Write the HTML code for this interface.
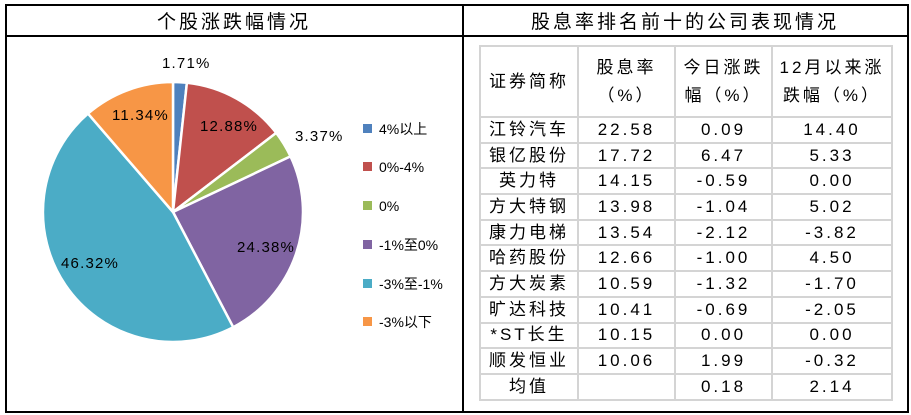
<!DOCTYPE html>
<html><head><meta charset="utf-8"><style>
body{margin:0;width:911px;height:415px;background:#fff;position:relative;overflow:hidden;font-family:"Liberation Sans","Noto Sans CJK SC",sans-serif;color:#000}
.a{position:absolute}
table{position:absolute;left:479px;top:45px;border-collapse:collapse;font-size:17px}
td{border:2px solid #d4d4d4;text-align:center;padding:0;height:23.7px;line-height:20px;letter-spacing:3px}
tr.h td{height:69px;line-height:28px;vertical-align:middle}
</style></head><body>
<div class="a" style="left:5px;top:4px;width:900px;height:405px;border:2px solid #000"></div>
<div class="a" style="left:5px;top:35px;width:902px;height:2px;background:#000"></div>
<div class="a" style="left:462px;top:4px;width:2px;height:407px;background:#000"></div>
<div class="a" style="left:5px;top:7px;width:458px;text-align:center;font-size:19px;letter-spacing:3px">个股涨跌幅情况</div>
<div class="a" style="left:463px;top:7px;width:444px;text-align:center;font-size:19px;letter-spacing:3px">股息率排名前十的公司表现情况</div>
<svg class="a" style="left:0;top:0" width="470" height="415">
<g stroke="#fff" stroke-width="2.5" stroke-linejoin="round">
<path d="M173,212 L173,82 A130,130 0 0 1 186.9,82.8Z" fill="#4f81bd"/>
<path d="M173,212 L186.9,82.8 A130,130 0 0 1 276.2,132.9Z" fill="#c0504d"/>
<path d="M173,212 L276.2,132.9 A130,130 0 0 1 290.5,156.4Z" fill="#9bbb59"/>
<path d="M173,212 L290.5,156.4 A130,130 0 0 1 233.2,327.2Z" fill="#8064a2"/>
<path d="M173,212 L233.2,327.2 A130,130 0 0 1 88,113.6Z" fill="#4bacc6"/>
<path d="M173,212 L88,113.6 A130,130 0 0 1 173,82Z" fill="#f79646"/>
</g>
<g font-size="15" fill="#000" font-family="Liberation Sans, sans-serif" letter-spacing="1.2">
<text x="162" y="68">1.71%</text>
<text x="200" y="131">12.88%</text>
<text x="295" y="141">3.37%</text>
<text x="237" y="252">24.38%</text>
<text x="61" y="268">46.32%</text>
<text x="112" y="120">11.34%</text>
</g>
<g font-size="14" font-family="Liberation Sans, Noto Sans CJK SC, sans-serif">
<rect x="363" y="124" width="9" height="9" fill="#4f81bd"/><text x="379" y="134">4%以上</text>
<rect x="363" y="162" width="9" height="9" fill="#c0504d"/><text x="379" y="172">0%-4%</text>
<rect x="363" y="201" width="9" height="9" fill="#9bbb59"/><text x="379" y="211">0%</text>
<rect x="363" y="240" width="9" height="9" fill="#8064a2"/><text x="379" y="250">-1%至0%</text>
<rect x="363" y="279" width="9" height="9" fill="#4bacc6"/><text x="379" y="289">-3%至-1%</text>
<rect x="363" y="317" width="9" height="9" fill="#f79646"/><text x="379" y="327">-3%以下</text>
</g>
</svg>
<table>
<colgroup><col style="width:98px"><col style="width:97px"><col style="width:97px"><col style="width:120px"></colgroup>
<tr class="h"><td>证券简称</td><td>股息率<br>（%）</td><td>今日涨跌<br>幅（%）</td><td>12月以来涨<br>跌幅（%）</td></tr>
<tr><td>江铃汽车</td><td>22.58</td><td>0.09</td><td>14.40</td></tr>
<tr><td>银亿股份</td><td>17.72</td><td>6.47</td><td>5.33</td></tr>
<tr><td>英力特</td><td>14.15</td><td>-0.59</td><td>0.00</td></tr>
<tr><td>方大特钢</td><td>13.98</td><td>-1.04</td><td>5.02</td></tr>
<tr><td>康力电梯</td><td>13.54</td><td>-2.12</td><td>-3.82</td></tr>
<tr><td>哈药股份</td><td>12.66</td><td>-1.00</td><td>4.50</td></tr>
<tr><td>方大炭素</td><td>10.59</td><td>-1.32</td><td>-1.70</td></tr>
<tr><td>旷达科技</td><td>10.41</td><td>-0.69</td><td>-2.05</td></tr>
<tr><td>*ST长生</td><td>10.15</td><td>0.00</td><td>0.00</td></tr>
<tr><td>顺发恒业</td><td>10.06</td><td>1.99</td><td>-0.32</td></tr>
<tr><td>均值</td><td></td><td>0.18</td><td>2.14</td></tr>
</table>
</body></html>
